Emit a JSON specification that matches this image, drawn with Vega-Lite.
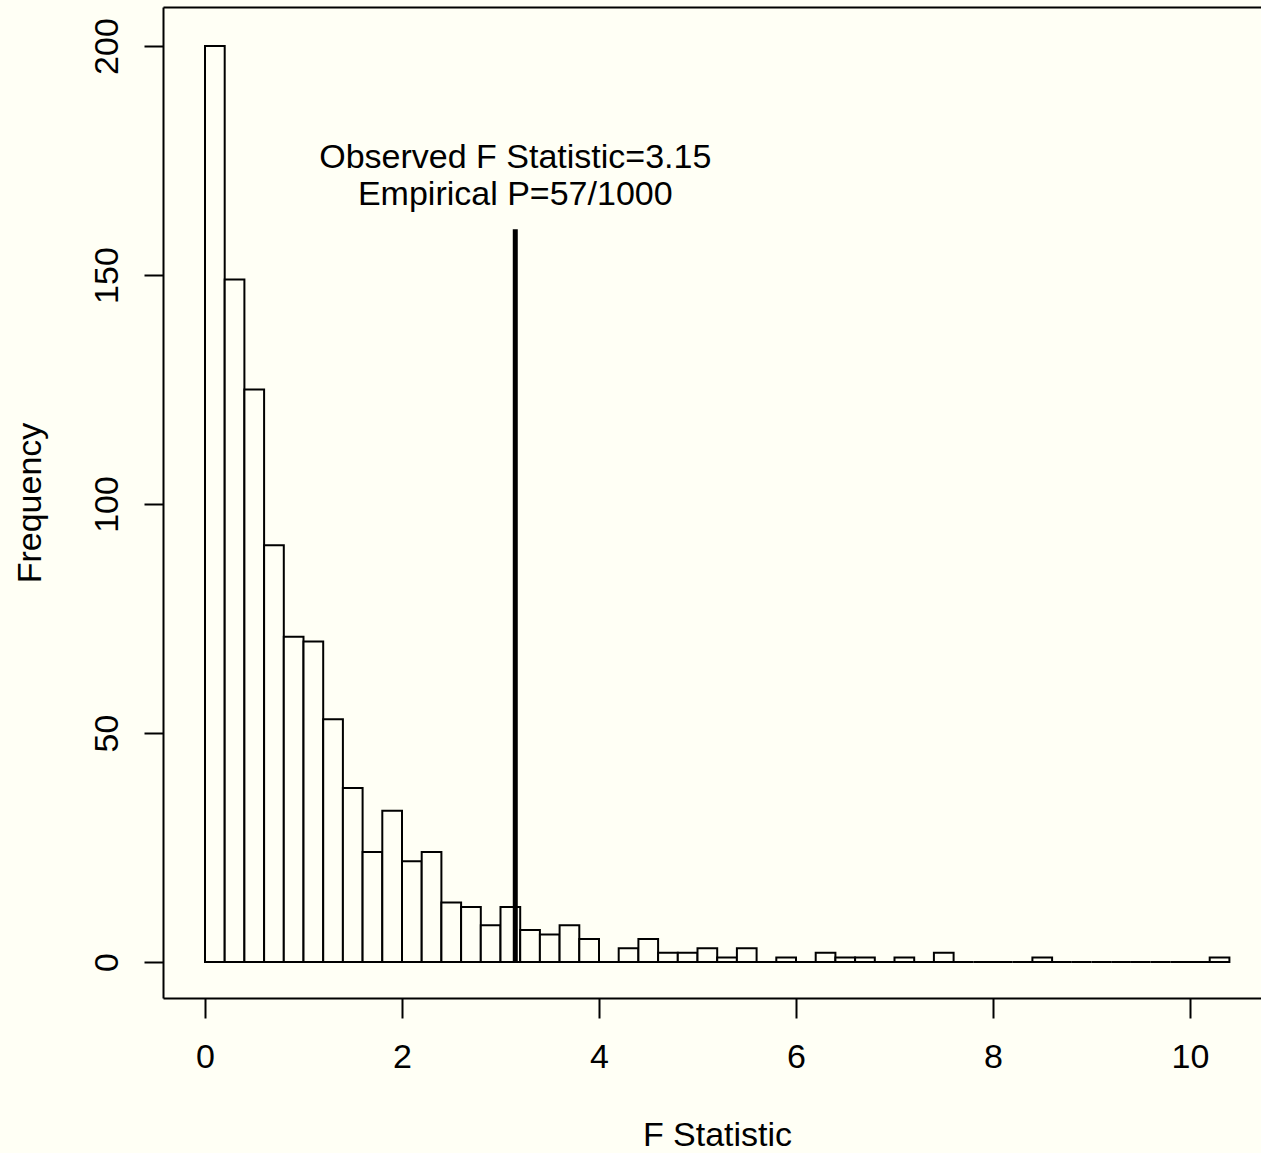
{
  "$schema": "https://vega.github.io/schema/vega-lite/v6.json",
  "width": 1098,
  "height": 991,
  "autosize": {"type": "none"},
  "padding": {"left": 163, "top": 7, "right": 0, "bottom": 155},
  "background": "#fffff5",
  "config": {
    "view": {"stroke": null},
    "font": "Liberation Sans",
    "axis": {"grid": false, "domainColor": "black", "domainWidth": 2, "tickColor": "black", "tickWidth": 2, "labelColor": "black", "titleColor": "black", "labelFont": "Liberation Sans", "titleFont": "Liberation Sans", "titleFontWeight": "normal"}
  },
  "datasets": {
    "bins": [
      {"bin_start": 0.0, "bin_end": 0.2, "count": 200},
      {"bin_start": 0.2, "bin_end": 0.4, "count": 149},
      {"bin_start": 0.4, "bin_end": 0.6, "count": 125},
      {"bin_start": 0.6, "bin_end": 0.8, "count": 91},
      {"bin_start": 0.8, "bin_end": 1.0, "count": 71},
      {"bin_start": 1.0, "bin_end": 1.2, "count": 70},
      {"bin_start": 1.2, "bin_end": 1.4, "count": 53},
      {"bin_start": 1.4, "bin_end": 1.6, "count": 38},
      {"bin_start": 1.6, "bin_end": 1.8, "count": 24},
      {"bin_start": 1.8, "bin_end": 2.0, "count": 33},
      {"bin_start": 2.0, "bin_end": 2.2, "count": 22},
      {"bin_start": 2.2, "bin_end": 2.4, "count": 24},
      {"bin_start": 2.4, "bin_end": 2.6, "count": 13},
      {"bin_start": 2.6, "bin_end": 2.8, "count": 12},
      {"bin_start": 2.8, "bin_end": 3.0, "count": 8},
      {"bin_start": 3.0, "bin_end": 3.2, "count": 12},
      {"bin_start": 3.2, "bin_end": 3.4, "count": 7},
      {"bin_start": 3.4, "bin_end": 3.6, "count": 6},
      {"bin_start": 3.6, "bin_end": 3.8, "count": 8},
      {"bin_start": 3.8, "bin_end": 4.0, "count": 5},
      {"bin_start": 4.0, "bin_end": 4.2, "count": 0},
      {"bin_start": 4.2, "bin_end": 4.4, "count": 3},
      {"bin_start": 4.4, "bin_end": 4.6, "count": 5},
      {"bin_start": 4.6, "bin_end": 4.8, "count": 2},
      {"bin_start": 4.8, "bin_end": 5.0, "count": 2},
      {"bin_start": 5.0, "bin_end": 5.2, "count": 3},
      {"bin_start": 5.2, "bin_end": 5.4, "count": 1},
      {"bin_start": 5.4, "bin_end": 5.6, "count": 3},
      {"bin_start": 5.6, "bin_end": 5.8, "count": 0},
      {"bin_start": 5.8, "bin_end": 6.0, "count": 1},
      {"bin_start": 6.0, "bin_end": 6.2, "count": 0},
      {"bin_start": 6.2, "bin_end": 6.4, "count": 2},
      {"bin_start": 6.4, "bin_end": 6.6, "count": 1},
      {"bin_start": 6.6, "bin_end": 6.8, "count": 1},
      {"bin_start": 6.8, "bin_end": 7.0, "count": 0},
      {"bin_start": 7.0, "bin_end": 7.2, "count": 1},
      {"bin_start": 7.2, "bin_end": 7.4, "count": 0},
      {"bin_start": 7.4, "bin_end": 7.6, "count": 2},
      {"bin_start": 7.6, "bin_end": 7.8, "count": 0},
      {"bin_start": 7.8, "bin_end": 8.0, "count": 0},
      {"bin_start": 8.0, "bin_end": 8.2, "count": 0},
      {"bin_start": 8.2, "bin_end": 8.4, "count": 0},
      {"bin_start": 8.4, "bin_end": 8.6, "count": 1},
      {"bin_start": 8.6, "bin_end": 8.8, "count": 0},
      {"bin_start": 8.8, "bin_end": 9.0, "count": 0},
      {"bin_start": 9.0, "bin_end": 9.2, "count": 0},
      {"bin_start": 9.2, "bin_end": 9.4, "count": 0},
      {"bin_start": 9.4, "bin_end": 9.6, "count": 0},
      {"bin_start": 9.6, "bin_end": 9.8, "count": 0},
      {"bin_start": 9.8, "bin_end": 10.0, "count": 0},
      {"bin_start": 10.0, "bin_end": 10.2, "count": 0},
      {"bin_start": 10.2, "bin_end": 10.4, "count": 1}
    ],
    "observed": [
      {"F": 3.15, "bottom": 0, "top": 160}
    ]
  },
  "layer": [
    {
      "data": {"name": "bins"},
      "mark": {"type": "rect", "fill": "#fffff5", "stroke": "black", "strokeWidth": 2},
      "encoding": {
        "x": {
          "field": "bin_start", "type": "quantitative",
          "scale": {"domain": [-0.4264, 10.7208], "nice": false, "zero": false},
          "axis": {
            "values": [0, 2, 4, 6, 8, 10], "tickSize": 20, "labelFontSize": 34,
            "labelPadding": 49, "labelBaseline": "alphabetic", "labelFlush": false,
            "title": "F Statistic", "titleFontSize": 34, "titleX": 554, "titleY": 147,
            "titleBaseline": "alphabetic", "titleAlign": "center"
          }
        },
        "x2": {"field": "bin_end"},
        "y": {
          "field": "count", "type": "quantitative",
          "scale": {"domain": [-7.86, 208.52], "nice": false, "zero": false},
          "axis": {
            "values": [0, 50, 100, 150, 200], "tickSize": 19, "labelFontSize": 34,
            "labelAngle": 270, "labelAlign": "center", "labelBaseline": "alphabetic",
            "labelPadding": 27, "labelFlush": false,
            "title": "Frequency", "titleFontSize": 34, "titleAngle": 270,
            "titleX": -123, "titleY": 495.5, "titleAlign": "center",
            "titleBaseline": "alphabetic"
          }
        },
        "y2": {"datum": 0}
      }
    },
    {
      "data": {"name": "observed"},
      "mark": {"type": "rule", "stroke": "black", "strokeWidth": 5},
      "encoding": {
        "x": {"field": "F", "type": "quantitative", "axis": null},
        "y": {"field": "bottom", "type": "quantitative"},
        "y2": {"field": "top"}
      }
    },
    {
      "data": {"name": "observed"},
      "mark": {"type": "text", "fontSize": 34, "font": "Liberation Sans", "align": "center", "baseline": "alphabetic", "lineHeight": 37, "color": "black", "dy": -61},
      "encoding": {
        "x": {
          "field": "F", "type": "quantitative",
          "axis": {"orient": "top", "labels": false, "ticks": false, "title": null, "domain": true}
        },
        "y": {"field": "top", "type": "quantitative"},
        "text": {"value": ["Observed F Statistic=3.15", "Empirical P=57/1000"]}
      }
    }
  ],
  "resolve": {"axis": {"x": "independent"}}
}
